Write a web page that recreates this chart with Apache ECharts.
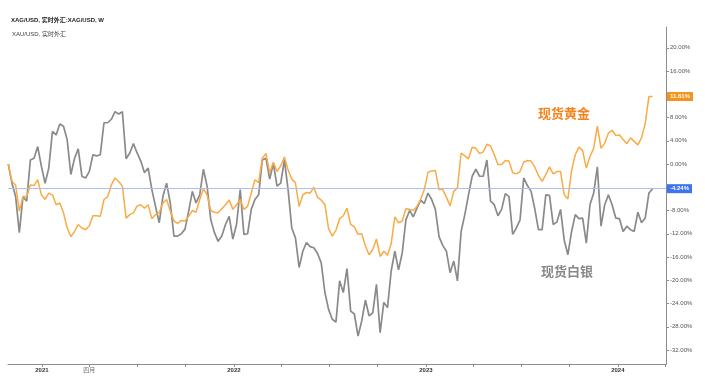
<!DOCTYPE html>
<html><head><meta charset="utf-8">
<script src="https://cdn.jsdelivr.net/npm/echarts@6/dist/echarts.min.js"></script>
<style>html,body{margin:0;padding:0;background:#fff}#c{width:705px;height:384px}</style>
</head><body><div id="c"></div><script>
// weekly points, first week 2020-10-29
const startDate = Date.UTC(2020, 9, 29);
const goldPct = [
0,-3.0,-3.6,-8.1,-5.6,-5.6,-3.6,-3.7,-2.7,-5.3,
-6.1,-5.0,-5.3,-7.0,-6.7,-8.4,-11.0,-12.5,-11.6,-10.4,
-11.0,-11.3,-10.6,-8.9,-8.9,-9.0,-6.1,-5.6,-3.6,-2.4,
-3.0,-3.8,-9.3,-8.7,-8.4,-7.2,-7.0,-7.6,-7.0,-9.4,
-8.7,-8.4,-6.7,-6.1,-8.1,-9.8,-10.2,-9.7,-9.8,-9.0,
-8.0,-8.3,-6.1,-4.3,-5.3,-8.0,-8.3,-8.4,-7.7,-7.0,
-6.2,-7.8,-7.0,-6.1,-7.8,-7.3,-5.0,-2.7,-3.2,1.0,
1.8,-1.5,0.3,-1.3,-0.3,1.2,-1.0,-2.6,-3.2,-7.3,
-5.3,-4.9,-5.0,-4.0,-5.7,-6.2,-7.0,-11.1,-12.4,-11.4,
-9.4,-8.9,-7.6,-10.4,-10.8,-12.1,-12.0,-14.1,-15.6,-14.7,
-12.9,-15.9,-15.0,-15.7,-13.7,-9.1,-10.1,-9.8,-7.7,-7.8,
-8.0,-7.3,-6.1,-4.4,-1.4,-1.2,-1.1,-4.4,-4.4,-5.7,
-7.2,-4.7,-4.1,1.9,1.4,0.9,2.9,2.7,1.8,2.1,
3.4,3.1,1.6,-0.1,-0.1,0.6,0.5,-1.5,-1.7,-1.3,
0.3,0.6,0.5,-0.5,-2.0,-3.0,-1.8,-0.5,-1.7,-1.3,
-1.3,-5.3,-6.0,-1.1,1.6,2.9,2.3,-0.7,1.3,2.7,
6.5,2.7,3.6,5.3,5.8,4.9,5.0,4.2,3.5,4.5,
3.9,3.3,4.5,7.0,11.61,11.61];
const silverPct = [
0,-3.3,-5.6,-11.8,-5.6,-6.4,0.7,1.0,3.0,-0.4,
-3.3,-0.7,5.6,5.0,6.9,6.5,4.2,-1.8,1.0,2.6,
-2.1,-2.4,-1.3,1.6,1.4,1.6,7.1,7.1,7.7,9.0,
8.6,9.0,0.9,1.9,3.5,1.9,0.5,-1.5,-0.7,-4.4,
-7.3,-10.1,-5.6,-3.3,-6.7,-12.4,-12.4,-12.0,-11.2,-8.1,
-4.7,-6.7,-5.3,-0.9,-3.8,-9.6,-11.8,-13.3,-12.4,-10.4,
-9.0,-12.9,-10.4,-4.4,-12.1,-12.0,-7.8,-6.1,-5.3,0.7,
1.0,-2.6,0.1,-3.8,-3.3,0.7,-4.4,-11.0,-12.7,-17.8,
-15.0,-13.5,-14.2,-14.4,-15.4,-17.0,-22.1,-25.0,-26.7,-27.2,
-20.1,-22.1,-18.0,-25.3,-25.8,-29.6,-27.0,-23.4,-26.1,-25.6,
-20.7,-29.0,-23.8,-24.7,-18.4,-15.0,-18.2,-15.3,-9.6,-8.0,
-9.1,-7.6,-6.2,-6.8,-5.0,-6.1,-7.8,-12.5,-14.0,-15.0,
-18.7,-16.7,-20.1,-11.6,-8.7,-5.3,-2.1,-0.9,-2.1,-2.1,
0.7,-6.4,-7.0,-8.9,-7.8,-5.1,-5.6,-12.1,-11.0,-9.6,
-2.4,-3.7,-4.7,-7.7,-11.3,-11.3,-5.3,-5.4,-10.4,-10.0,
-7.8,-13.1,-15.6,-11.6,-8.7,-9.4,-9.3,-13.6,-7.0,-5.0,
-0.5,-10.7,-7.0,-5.3,-7.0,-9.3,-9.4,-11.6,-10.7,-11.3,
-11.6,-8.3,-10.1,-9.3,-5.0,-4.24];
const xTickDates = ['2021-01-01','2021-04-01','2021-07-01','2021-10-01','2022-01-01','2022-04-01','2022-07-01','2022-10-01','2023-01-01','2023-04-01','2023-07-01','2023-10-01','2024-01-01','2024-04-01'];
const xTickLabels = {'2021-01-01':'{y|2021}','2021-04-01':'{m|四月}','2022-01-01':'{y|2022}','2023-01-01':'{y|2023}','2024-01-01':'{y|2024}'};
const yTicks = [-32,-28,-24,-20,-16,-12,-8,-4,0,4,8,12,16,20];
const yLabels = [-32,-28,-24,-20,-16,-12,-8,0,4,8,16,20];
const goldLast = 11.61, silverLast = -4.24;
const titleMain = 'XAG/USD, 实时外汇:XAG/USD, W';
const titleSub = 'XAU/USD, 实时外汇';
const goldName = '现货黄金', silverName = '现货白银';

const DAY = 86400000;
// x measured in days since the first weekly point
const dayOf = i => i * 7;
const toDay = s => { const p = s.split('-').map(Number); return Math.round((Date.UTC(p[0], p[1]-1, p[2]) - startDate) / DAY); };
const tickDays = xTickDates.map(toDay);
const labelByDay = {};
xTickDates.forEach(d => { labelByDay[toDay(d)] = xTickLabels[d] || ''; });
const FF = "'Liberation Sans','Noto Sans CJK SC',sans-serif";

const chart = echarts.init(document.getElementById('c'));
chart.setOption({
  animation: false,
  backgroundColor: '#fff',
  grid: { left: 8, right: 39, top: 27, bottom: 20 },
  xAxis: {
    type: 'value', min: -0.5, max: 1250.5,
    axisLine: { show: true, onZero: false, lineStyle: { color: '#8c8c8c', width: 1 } },
    axisTick: { show: true, length: 3, customValues: tickDays, lineStyle: { color: '#8c8c8c' } },
    axisLabel: {
      customValues: tickDays, margin: 3, fontSize: 6, fontFamily: FF,
      formatter: v => labelByDay[Math.round(v)] || '',
      rich: {
        y: { fontSize: 6, fontWeight: 'bold', color: '#333', fontFamily: FF },
        m: { fontSize: 6, color: '#666', fontFamily: FF }
      }
    },
    splitLine: { show: false }
  },
  yAxis: {
    type: 'value', position: 'right', min: -34.4, max: 23.57,
    axisLine: { show: true, onZero: false, lineStyle: { color: '#8c8c8c', width: 1 } },
    axisTick: { show: true, length: 3, customValues: yTicks, lineStyle: { color: '#8c8c8c' } },
    axisLabel: { customValues: yLabels, margin: 4, fontSize: 6, color: '#555', fontFamily: FF,
      formatter: v => Number(v).toFixed(2) + '%' },
    splitLine: { show: false }
  },
  series: [
    {
      name: silverName, type: 'line', showSymbol: false, symbol: 'none',
      data: silverPct.map((v, i) => [dayOf(i), v]),
      lineStyle: { color: '#8a8a8a', width: 1.7 }, itemStyle: { color: '#8a8a8a' },
      markLine: {
        silent: true, symbol: 'none', animation: false,
        data: [{ yAxis: silverLast }],
        lineStyle: { color: '#a9c0f5', width: 1, type: 'solid' },
        label: { position: 'end', distance: 1, formatter: silverLast.toFixed(2) + '%',
          backgroundColor: '#3d74ef', color: '#fff', fontSize: 6, fontWeight: 'bold',
          padding: [2, 3, 1, 3], fontFamily: FF }
      }
    },
    {
      name: goldName, type: 'line', showSymbol: false, symbol: 'none',
      data: goldPct.map((v, i) => [dayOf(i), v]),
      lineStyle: { color: '#f9ab45', width: 1.5 }, itemStyle: { color: '#f9ab45' },
      markLine: {
        silent: true, symbol: 'none', animation: false,
        data: [{ yAxis: goldLast }],
        lineStyle: { color: 'rgba(0,0,0,0)', width: 0 },
        label: { position: 'end', distance: 1, formatter: goldLast.toFixed(2) + '%',
          backgroundColor: '#f7931a', color: '#fff', fontSize: 6, fontWeight: 'bold',
          padding: [2, 3, 1, 3], fontFamily: FF }
      }
    }
  ],
  graphic: [
    { type: 'text', left: 11, top: 17, style: { text: titleMain, font: "bold 6px " + FF, fill: '#222' } },
    { type: 'text', left: 12, top: 31, style: { text: titleSub, font: "6px " + FF, fill: '#444' } },
    { type: 'text', left: 538, top: 108, style: { text: goldName, font: "bold 13px " + FF, fill: '#f5841f' } },
    { type: 'text', left: 541, top: 266, style: { text: silverName, font: "bold 13px " + FF, fill: '#888' } }
  ]
});
</script></body></html>
